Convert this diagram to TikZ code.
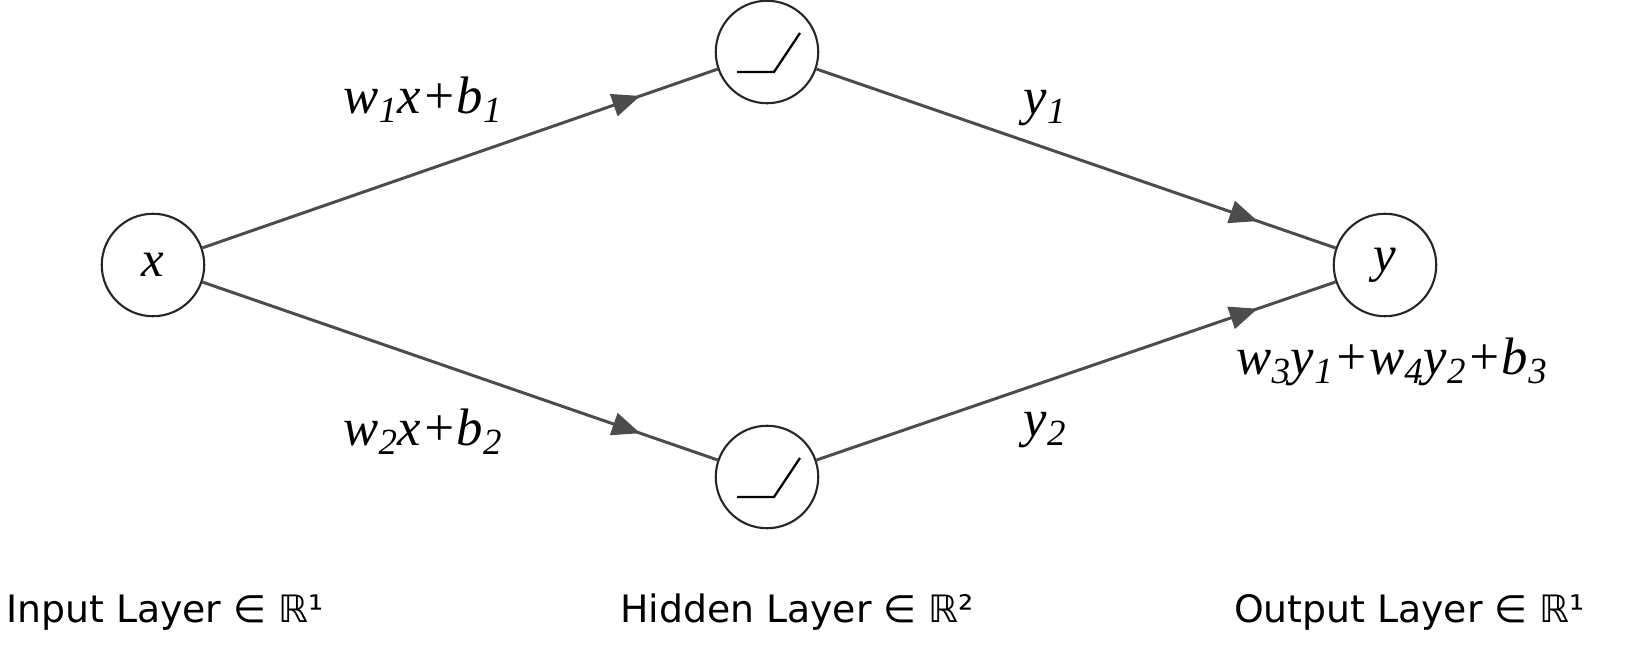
\documentclass[tikz,border=0pt]{standalone}
\usepackage{fontspec}
\setmainfont{Liberation Serif}
\newfontfamily\labfont{DejaVu Sans}
\usetikzlibrary{arrows.meta,decorations.markings}
\begin{document}
\begin{tikzpicture}[x=0.02cm,y=-0.02cm,
  neuron/.style={circle,draw=black!85,line width=1.2pt,minimum size=2.05cm,inner sep=0pt,font=\fontsize{29}{32}\selectfont\itshape},
  conn/.style={draw=black!70,line width=1.7pt,postaction={decorate},
    decoration={markings,mark=at position 0.85 with {\arrow[black!70]{Triangle[length=16pt,width=13pt]}}}},
  elab/.style={font=\fontsize{30}{34}\selectfont\itshape},
  layer/.style={font=\labfont\fontsize{21.5}{24}\selectfont,anchor=base west},
  relu/.style={line width=1.3pt,draw=black}]
\node[neuron] (x) at (153,265) {x};
\node[neuron] (h1) at (767,52) {};
\node[neuron] (h2) at (767,477) {};
\node[neuron] (y) at (1385,265) {y};
\draw[relu] (737,72) -- (774,72) -- (800,33);
\draw[relu] (737,497) -- (774,497) -- (800,458);
\draw[conn] (x) -- (h1);
\draw[conn] (x) -- (h2);
\draw[conn] (h1) -- (y);
\draw[conn] (h2) -- (y);
\node[elab] (l1) at (423,100) {w\textsubscript{1}x+b\textsubscript{1}};
\node[elab] (l2) at (423,432) {w\textsubscript{2}x+b\textsubscript{2}};
\node[elab] (l3) at (1045,108) {y\textsubscript{1}};
\node[elab] (l4) at (1045,430) {y\textsubscript{2}};
\node[elab] (l5) at (1392,362) {w\textsubscript{3}y\textsubscript{1}+w\textsubscript{4}y\textsubscript{2}+b\textsubscript{3}};
\node[layer] (i) at (0,622) {Input Layer ∈ ℝ¹};
\node[layer] (hh) at (614,622) {Hidden Layer ∈ ℝ²};
\node[layer] (o) at (1228,622) {Output Layer ∈ ℝ¹};
\pgfresetboundingbox
\clip (0,0) rectangle (1633,658);
\useasboundingbox (0,0) rectangle (1633,658);
\end{tikzpicture}
\end{document}
